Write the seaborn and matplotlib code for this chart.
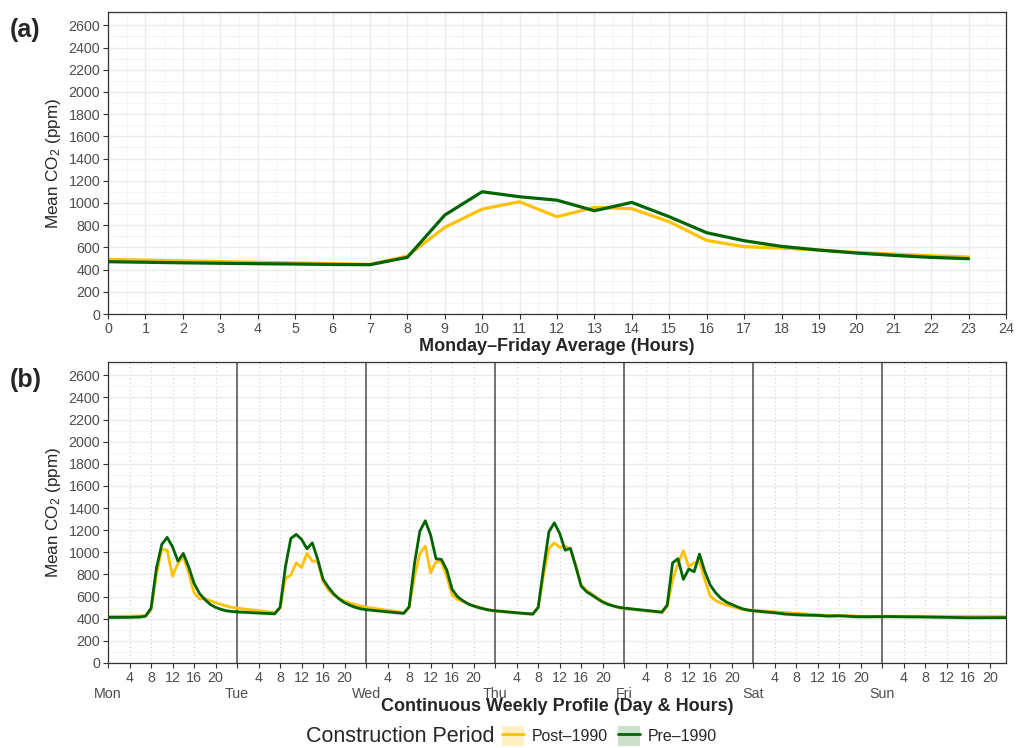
import numpy as np, pandas as pd, matplotlib
matplotlib.use("Agg")
import matplotlib.pyplot as plt
import seaborn as sns
from matplotlib.patches import Patch
from matplotlib.lines import Line2D
from matplotlib.ticker import MultipleLocator

# panel (a): Monday-Friday average by hour
hours = list(range(24))
pre_avg = [471, 466, 461, 457, 453, 450, 446, 444, 510, 891, 1101, 1056,
           1025, 930, 1005, 876, 732, 660, 609, 576, 549, 528, 510, 498]
post_avg = [492, 485, 478, 472, 466, 460, 454, 447, 522, 780, 945, 1011,
            876, 960, 948, 831, 663, 606, 594, 576, 555, 540, 525, 513]

# panel (b): continuous weekly profile, one list of 24 hourly values per day
days = ["Mon", "Tue", "Wed", "Thu", "Fri", "Sat", "Sun"]
pre_week = {
    "Mon": [412, 412, 412, 412, 413, 414, 416, 424, 494, 855, 1072, 1135, 1050, 921, 990, 870, 720, 629, 575, 530, 503, 485, 472, 466],
    "Tue": [462, 460, 457, 454, 451, 449, 447, 445, 503, 870, 1126, 1162, 1117, 1032, 1086, 936, 756, 684, 623, 578, 545, 521, 503, 490],
    "Wed": [482, 477, 472, 467, 462, 458, 453, 449, 508, 900, 1192, 1285, 1156, 942, 936, 840, 665, 599, 563, 533, 515, 500, 488, 478],
    "Thu": [472, 468, 463, 458, 454, 450, 446, 442, 503, 855, 1186, 1267, 1171, 1020, 1036, 870, 695, 644, 614, 581, 551, 530, 515, 503],
    "Fri": [496, 491, 486, 480, 475, 470, 465, 460, 524, 906, 942, 756, 849, 825, 984, 825, 704, 635, 584, 551, 530, 508, 490, 479],
    "Sat": [472, 467, 463, 458, 454, 448, 442, 439, 436, 434, 433, 432, 430, 427, 424, 425, 427, 424, 421, 419, 418, 418, 418, 419],
    "Sun": [420, 420, 419, 419, 418, 418, 417, 417, 416, 415, 414, 413, 412, 411, 410, 410, 409, 409, 409, 409, 409, 409, 410, 410],
}
post_week = {
    "Mon": [421, 421, 421, 422, 423, 424, 426, 430, 480, 800, 1027, 1020, 786, 900, 960, 816, 635, 581, 581, 563, 545, 530, 515, 503],
    "Tue": [496, 490, 485, 479, 474, 468, 462, 455, 495, 765, 795, 906, 864, 990, 921, 920, 735, 659, 614, 584, 560, 542, 527, 515],
    "Wed": [505, 497, 490, 483, 476, 469, 462, 455, 500, 780, 990, 1056, 816, 915, 915, 780, 614, 575, 557, 536, 518, 503, 488, 476],
    "Thu": [470, 466, 462, 457, 453, 449, 446, 445, 500, 795, 1036, 1086, 1045, 1056, 1027, 880, 705, 655, 622, 588, 556, 535, 516, 502],
    "Fri": [494, 489, 484, 478, 473, 468, 462, 455, 510, 750, 900, 1014, 870, 906, 915, 750, 605, 563, 542, 524, 512, 497, 485, 476],
    "Sat": [478, 474, 470, 466, 462, 458, 455, 452, 449, 446, 443, 440, 437, 433, 430, 430, 430, 428, 425, 423, 422, 421, 421, 422],
    "Sun": [423, 423, 423, 423, 423, 423, 422, 422, 422, 422, 422, 421, 421, 421, 421, 421, 420, 420, 420, 420, 420, 420, 420, 420],
}
groups = ["Post\u20131990", "Pre\u20131990"]
band = 15  # half-width of the faint ribbon in (b)

sns.set_theme(style="white")
plt.rcParams['font.family'] = ['Liberation Sans', 'DejaVu Sans']
plt.rcParams['mathtext.default'] = 'regular'

pal = {groups[0]: "#FFC107", groups[1]: "#006400"}
fills = {groups[0]: "#FFF0C4", groups[1]: "#CCE0CC"}
tick_col = "#4D4D4D"

df_a = pd.DataFrame({"hour": hours * 2,
                     "co2": post_avg + pre_avg,
                     "period": [groups[0]] * 24 + [groups[1]] * 24})
week_hours = list(range(24 * 7))
df_b = pd.DataFrame({"hour": week_hours * 2,
                     "co2": sum([post_week[d] for d in days], []) + sum([pre_week[d] for d in days], []),
                     "period": [groups[0]] * 168 + [groups[1]] * 168})

fig = plt.figure(figsize=(10.17, 7.48), dpi=100)
ax1 = fig.add_axes([108/1017, 1 - 314/748, 898/1017, 302/748])
ax2 = fig.add_axes([108/1017, 1 - 663/748, 898/1017, 301/748])

ymax = 2720
for ax in (ax1, ax2):
    ax.set_ylim(0, ymax)
    ax.yaxis.set_major_locator(MultipleLocator(200))
    ax.yaxis.set_minor_locator(MultipleLocator(100))
    ax.grid(which="major", axis="y", color="#EBEBEB", lw=1.0)
    ax.grid(which="minor", axis="y", color="#F2F2F2", lw=0.6)
    ax.set_axisbelow(True)
    for s in ax.spines.values():
        s.set_color("#333333")
        s.set_linewidth(0.9)
    ax.tick_params(axis="both", which="major", length=3.5, width=0.8, color="#333333",
                   labelsize=10.3, labelcolor=tick_col, bottom=True, left=True, pad=2)
    ax.tick_params(axis="both", which="minor", length=0)

# ---- (a)
ax1.set_xlim(0, 24)
ax1.xaxis.set_major_locator(MultipleLocator(1))
ax1.xaxis.set_minor_locator(MultipleLocator(0.5))
ax1.grid(which="major", axis="x", color="#EBEBEB", lw=1.0)
ax1.grid(which="minor", axis="x", color="#F4F4F4", lw=0.6)
sns.lineplot(data=df_a, x="hour", y="co2", hue="period", palette=pal, lw=2.3,
             ax=ax1, legend=False)
ax1.set_xlabel("Monday\u2013Friday Average (Hours)", fontsize=13, fontweight="bold", labelpad=2)
ax1.set_ylabel("Mean CO$_2$ (ppm)", fontsize=12.3, labelpad=4)

# ---- (b)
ax2.set_xlim(0, 167)
for g, wk in zip(groups, [post_week, pre_week]):
    vals = np.array(sum([wk[d] for d in days], []), dtype=float)
    ax2.fill_between(week_hours, vals - band, vals + band, color=pal[g], alpha=0.15, lw=0)
sns.lineplot(data=df_b, x="hour", y="co2", hue="period", palette=pal, lw=2.0,
             ax=ax2, legend=False)
for i in range(7):
    for h in (4, 8, 12, 16, 20):
        ax2.axvline(24 * i + h, color="#C8C8C8", lw=0.8, ls=(0, (1, 2.5)), zorder=0)
    if i > 0:
        ax2.axvline(24 * i, color="#5A5A5A", lw=1.2, zorder=1)
xt, xl = [], []
for i, d in enumerate(days):
    xt.append(24 * i); xl.append("\n" + d)
    for h in (4, 8, 12, 16, 20):
        xt.append(24 * i + h); xl.append(str(h))
ax2.set_xticks(xt)
ax2.set_xticklabels(xl)
ax2.set_xlabel("Continuous Weekly Profile (Day & Hours)", fontsize=13, fontweight="bold", labelpad=-2)
ax2.set_ylabel("Mean CO$_2$ (ppm)", fontsize=12.3, labelpad=4)

fig.text(10/1017, 1 - 30/748, "(a)", fontsize=18, fontweight="bold", va="center")
fig.text(10/1017, 1 - 380/748, "(b)", fontsize=18, fontweight="bold", va="center")

# legend
fig.text(495/1017, 1 - 737/748, "Construction Period", fontsize=15.5, ha="right", va="center")
handles = [(Patch(facecolor=fills[g], edgecolor="none"), Line2D([], [], color=pal[g], lw=2.0))
           for g in groups]
fig.legend(handles, groups, loc="center left", bbox_to_anchor=(502/1017, 1 - 736/748),
           ncol=2, frameon=False, fontsize=11.4, handlelength=1.4, handleheight=1.5,
           handletextpad=0.5, columnspacing=0.6, borderaxespad=0, borderpad=0)

fig.savefig("out.png", dpi=100)
